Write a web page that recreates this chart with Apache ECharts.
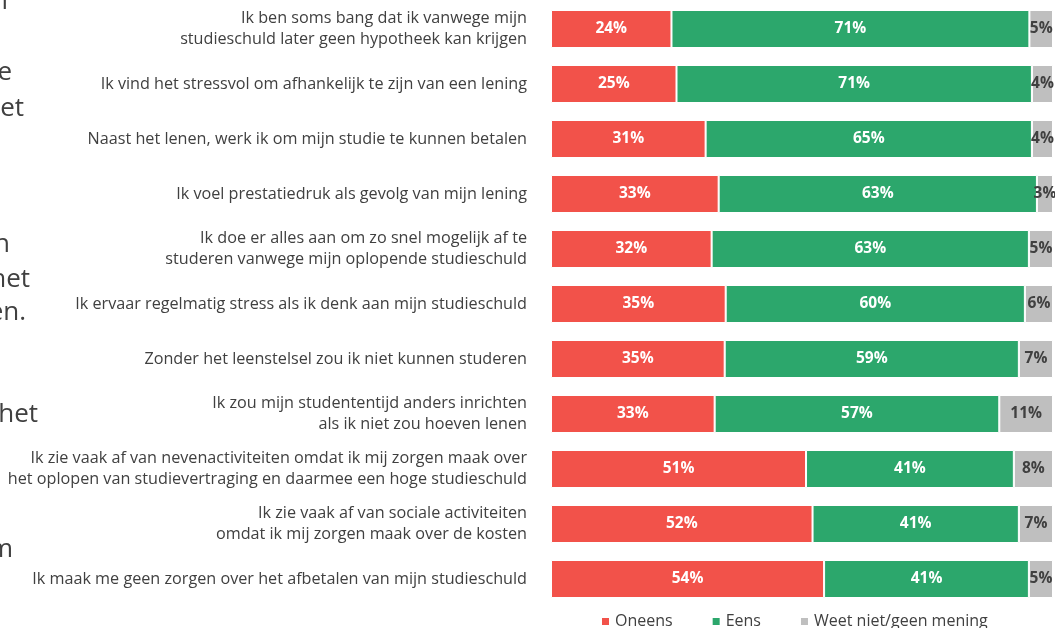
<!DOCTYPE html>
<html>
<head>
<meta charset="utf-8">
<script src="https://cdn.jsdelivr.net/npm/echarts@6/dist/echarts.min.js"></script>
<style>
  html, body { margin: 0; padding: 0; background: #fff; }
  #chart { width: 1055px; height: 628px; }
</style>
</head>
<body>
<div id="chart"></div>
<script>
var statements = [
  'Ik ben soms bang dat ik vanwege mijn\nstudieschuld later geen hypotheek kan krijgen',
  'Ik vind het stressvol om afhankelijk te zijn van een lening',
  'Naast het lenen, werk ik om mijn studie te kunnen betalen',
  'Ik voel prestatiedruk als gevolg van mijn lening',
  'Ik doe er alles aan om zo snel mogelijk af te\nstuderen vanwege mijn oplopende studieschuld',
  'Ik ervaar regelmatig stress als ik denk aan mijn studieschuld',
  'Zonder het leenstelsel zou ik niet kunnen studeren',
  'Ik zou mijn studententijd anders inrichten\nals ik niet zou hoeven lenen',
  'Ik zie vaak af van nevenactiviteiten omdat ik mij zorgen maak over\nhet oplopen van studievertraging en daarmee een hoge studieschuld',
  'Ik zie vaak af van sociale activiteiten\nomdat ik mij zorgen maak over de kosten',
  'Ik maak me geen zorgen over het afbetalen van mijn studieschuld'
];
var oneens = [24.0, 25.0, 30.8, 33.4, 32.0, 34.8, 34.6, 32.6, 50.8, 52.1, 54.4];
var eens   = [71.3, 70.8, 65.0, 63.4, 63.2, 59.6, 58.6, 56.7, 41.4, 41.1, 40.8];
var weetNiet = [4.7, 4.2, 4.2, 3.2, 4.8, 5.6, 6.8, 10.7, 7.8, 6.8, 4.8];

// cut-off words of a neighbouring text block on the left
var sideWords = ['n', 'e', 'et', 'n', 'het', 'en.', 'het', 'm'];
var sideX = [8, 12, 24, 10, 30, 26, 38, 13];
var sideY = [2, 73, 109, 245, 280, 313, 415, 550];

var chart = echarts.init(document.getElementById('chart'));

function pct(p) { return Math.round(p.value) + '%'; }

var barLabel = {
  show: true,
  position: 'inside',
  formatter: pct,
  color: '#fff',
  fontWeight: 'bold',
  fontSize: 15.5,
  fontFamily: 'Open Sans'
};

var option = {
  animation: false,
  textStyle: { fontFamily: 'Open Sans' },
  grid: { left: 551, right: 2, top: 1.5, bottom: 21.5 },
  legend: {
    left: 595,
    top: 608,
    itemWidth: 9,
    itemHeight: 9,
    itemGap: 38,
    icon: 'rect',
    textStyle: { color: '#404040', fontSize: 16, fontFamily: 'Open Sans', lineHeight: 17 },
    data: ['Oneens', 'Eens', 'Weet niet/geen mening']
  },
  xAxis: {
    type: 'value',
    min: 0,
    max: 100,
    show: false
  },
  yAxis: {
    type: 'category',
    inverse: true,
    data: statements,
    axisLine: { show: false },
    axisTick: { show: false },
    axisLabel: {
      margin: 24,
      color: '#404040',
      fontSize: 16.2,
      lineHeight: 21,
      align: 'right',
      fontFamily: 'Open Sans'
    }
  },
  series: [
    {
      name: 'Oneens', type: 'bar', stack: 'a', barWidth: 38,
      data: oneens,
      itemStyle: { color: '#f2524a', borderColor: '#fff', borderWidth: 1 },
      label: barLabel
    },
    {
      name: 'Eens', type: 'bar', stack: 'a', barWidth: 38,
      data: eens,
      itemStyle: { color: '#2ca76c', borderColor: '#fff', borderWidth: 1 },
      label: barLabel
    },
    {
      name: 'Weet niet/geen mening', type: 'bar', stack: 'a', barWidth: 38,
      data: weetNiet,
      itemStyle: { color: '#bfbfbf', borderColor: '#fff', borderWidth: 1 },
      label: Object.assign({}, barLabel, { color: '#404040' })
    }
  ],
  graphic: sideWords.map(function (w, i) {
    return {
      type: 'text',
      x: sideX[i],
      y: sideY[i],
      style: {
        text: w,
        fill: '#404040',
        fontSize: 26,
        fontFamily: 'Open Sans',
        align: 'right',
        verticalAlign: 'middle'
      }
    };
  })
};

chart.setOption(option);
window.addEventListener('resize', function () { chart.resize(); });
</script>
</body>
</html>
